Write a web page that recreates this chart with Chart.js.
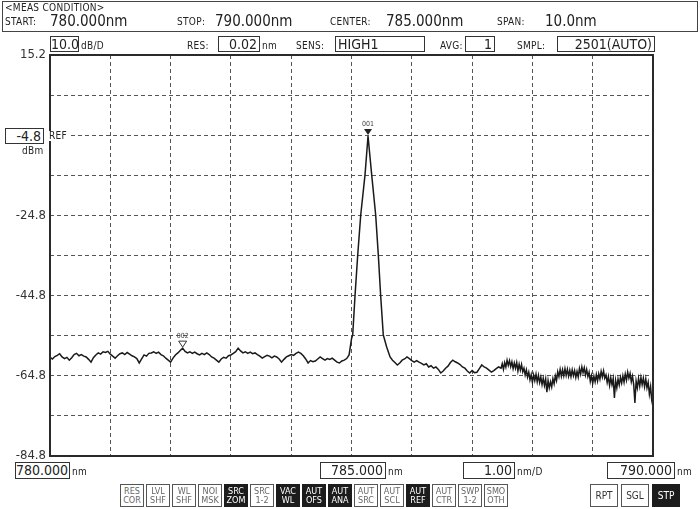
<!DOCTYPE html>
<html>
<head>
<meta charset="utf-8">
<script src="https://cdn.jsdelivr.net/npm/chart.js@4/dist/chart.umd.min.js"></script>
<style>
  html, body { margin: 0; padding: 0; background: #fff; }
  #wrap { position: relative; width: 700px; height: 509px; overflow: hidden;
          font-family: "DejaVu Sans Condensed", "Liberation Sans Narrow", sans-serif; color: #222; }
  #c { position: absolute; left: 0; top: 0; }
  .t { position: absolute; white-space: nowrap; line-height: 1; }
  .s { font-size: 10px; letter-spacing: 0.3px; }
  .v { font-size: 15px; }
  .box { position: absolute; border: 1px solid #333; background: #fff; text-align: right;
         font-size: 14px; line-height: 14px; padding-right: 2px; box-sizing: border-box; }
  .btn { position: absolute; top: 484px; width: 24px; height: 23px; border: 1px solid #555;
         box-sizing: border-box; font-size: 9px; line-height: 9px; text-align: center; padding-top: 2px;
         color: #666; background: #fff; }
  .btn.big { font-size: 10px; padding-top: 6px; color: #333; }
  .btn.on { background: #1c1c1c; color: #fff; border-color: #1c1c1c; }
</style>
</head>
<body>
<div id="wrap">
  <canvas id="c" width="700" height="509"></canvas>

  <!-- measurement condition header -->
  <div style="position:absolute;left:2px;top:1px;width:694px;height:29px;border:1px solid #444;"></div>
  <span class="t s" style="left:5px;top:3px;">&lt;MEAS CONDITION&gt;</span>
  <span class="t s" style="left:5px;top:17px;">START:</span>
  <span class="t v" style="left:50px;top:14px;">780.000nm</span>
  <span class="t s" style="left:177px;top:17px;">STOP:</span>
  <span class="t v" style="left:215px;top:14px;">790.000nm</span>
  <span class="t s" style="left:330px;top:17px;">CENTER:</span>
  <span class="t v" style="left:386px;top:14px;">785.000nm</span>
  <span class="t s" style="left:497px;top:17px;">SPAN:</span>
  <span class="t v" style="left:545px;top:14px;">10.0nm</span>

  <!-- settings row -->
  <div class="box" style="left:50px;top:36px;width:29px;height:16px;">10.0</div>
  <span class="t s" style="left:81px;top:41px;">dB/D</span>
  <span class="t s" style="left:187px;top:41px;">RES:</span>
  <div class="box" style="left:218px;top:36px;width:42px;height:16px;">0.02</div>
  <span class="t s" style="left:262px;top:41px;">nm</span>
  <span class="t s" style="left:296px;top:41px;">SENS:</span>
  <div class="box" style="left:335px;top:36px;width:90px;height:16px;text-align:left;padding-left:2px;">HIGH1</div>
  <span class="t s" style="left:440px;top:41px;">AVG:</span>
  <div class="box" style="left:465px;top:36px;width:30px;height:16px;">1</div>
  <span class="t s" style="left:517px;top:41px;">SMPL:</span>
  <div class="box" style="left:557px;top:36px;width:98px;height:16px;">2501(AUTO)</div>

  <!-- reference level -->
  <div class="box" style="left:5px;top:128px;width:39px;height:16px;">-4.8</div>
  <span class="t s" style="left:49px;top:131px;background:#fff;padding-right:2px;">REF</span>
  <span class="t s" style="left:22px;top:146px;">dBm</span>

  <!-- wavelength boxes -->
  <div class="box" style="left:15px;top:462px;width:55px;height:17px;">780.000</div>
  <span class="t s" style="left:72px;top:467px;">nm</span>
  <div class="box" style="left:320px;top:462px;width:66px;height:17px;">785.000</div>
  <span class="t s" style="left:388px;top:467px;">nm</span>
  <div class="box" style="left:463px;top:462px;width:52px;height:17px;">1.00</div>
  <span class="t s" style="left:517px;top:467px;">nm/D</span>
  <div class="box" style="left:607px;top:462px;width:68px;height:17px;">790.000</div>
  <span class="t s" style="left:677px;top:467px;">nm</span>

  <div id="buttons"></div>
</div>

<script>
// trace: wavelength (nm) and level (dBm)
const wavelengths = [
    // noise floor below the line
    780.00, 780.04, 780.08, 780.12, 780.16, 780.20, 780.24, 780.28, 780.32, 780.36,
    780.40, 780.44, 780.48, 780.52, 780.56, 780.60, 780.64, 780.68, 780.72, 780.76,
    780.80, 780.84, 780.88, 780.92, 780.96, 781.00, 781.04, 781.08, 781.12, 781.16,
    781.20, 781.24, 781.28, 781.32, 781.36, 781.40, 781.44, 781.48, 781.52, 781.56,
    781.60, 781.64, 781.68, 781.72, 781.76, 781.80, 781.84, 781.88, 781.92, 781.96,
    782.00, 782.04, 782.08, 782.12, 782.16, 782.20, 782.24, 782.28, 782.32, 782.36,
    782.40, 782.44, 782.48, 782.52, 782.56, 782.60, 782.64, 782.68, 782.72, 782.76,
    782.80, 782.84, 782.88, 782.92, 782.96, 783.00, 783.04, 783.08, 783.12, 783.16,
    783.20, 783.24, 783.28, 783.32, 783.36, 783.40, 783.44, 783.48, 783.52, 783.56,
    783.60, 783.64, 783.68, 783.72, 783.76, 783.80, 783.84, 783.88, 783.92, 783.96,
    784.00, 784.04, 784.08, 784.12, 784.16, 784.20, 784.24, 784.28, 784.32, 784.36,
    784.40, 784.44, 784.48, 784.52, 784.56, 784.60, 784.64, 784.68, 784.72, 784.76,
    784.80, 784.84, 784.88, 784.92, 784.96,
    // the line
    784.98, 785.00, 785.02, 785.058, 785.103, 785.153, 785.224, 785.274, 785.335, 785.401,
    785.445, 785.484, 785.527, 785.583, 785.64,
    // noise floor above the line
    785.68, 785.72, 785.76, 785.80, 785.84, 785.88, 785.92, 785.96, 786.00, 786.04,
    786.08, 786.12, 786.16, 786.20, 786.24, 786.28, 786.32, 786.36, 786.40, 786.44,
    786.48, 786.52, 786.56, 786.60, 786.64, 786.68, 786.72, 786.76, 786.80, 786.84,
    786.88, 786.92, 786.96, 787.00, 787.04, 787.08, 787.12, 787.16, 787.20, 787.24,
    787.28, 787.32, 787.36, 787.40, 787.44, 787.48,
    787.50, 787.52, 787.54, 787.56, 787.58, 787.60, 787.62, 787.64, 787.66, 787.68,
    787.70, 787.72, 787.74, 787.76, 787.78, 787.80, 787.82, 787.84, 787.86, 787.88,
    787.90, 787.92, 787.94, 787.96, 787.98, 788.00, 788.02, 788.04, 788.06, 788.08,
    788.10, 788.12, 788.14, 788.16, 788.18, 788.20, 788.22, 788.24, 788.26, 788.28,
    788.30, 788.32, 788.34, 788.36, 788.38, 788.40, 788.42, 788.44, 788.46, 788.48,
    788.50, 788.52, 788.54, 788.56, 788.58, 788.60, 788.62, 788.64, 788.66, 788.68,
    788.70, 788.72, 788.74, 788.76, 788.78, 788.80, 788.82, 788.84, 788.86, 788.88,
    788.90, 788.92, 788.94, 788.96, 788.98, 789.00, 789.02, 789.04, 789.06, 789.08,
    789.10, 789.12, 789.14, 789.16, 789.18, 789.20, 789.22, 789.24, 789.26, 789.28,
    789.30, 789.32, 789.34, 789.36, 789.38, 789.40, 789.42, 789.44, 789.46, 789.48,
    789.50, 789.52, 789.54, 789.56, 789.58, 789.60, 789.62, 789.64, 789.66, 789.68,
    789.70, 789.72, 789.74, 789.76, 789.78, 789.80, 789.82, 789.84, 789.86, 789.88,
    789.90, 789.92, 789.94, 789.96, 789.98, 790.00
];
const levels = [
    -60.2, -60.6, -60.0, -59.7, -59.3, -60.1, -60.5, -60.2, -60.9, -60.3,
    -59.5, -59.2, -59.8, -59.5, -59.9, -60.1, -60.7, -61.4, -60.3, -59.6,
    -59.1, -59.4, -58.8, -59.0, -58.7, -59.4, -59.9, -60.4, -59.8, -59.3,
    -59.1, -59.5, -59.0, -59.4, -59.8, -60.1, -60.5, -61.6, -60.6, -59.6,
    -59.9, -59.2, -59.1, -58.8, -59.2, -58.9, -59.5, -59.8, -60.4, -60.9,
    -61.4, -60.4, -59.6, -59.1, -58.5, -57.9, -58.7, -59.1, -58.8, -59.2,
    -58.9, -59.3, -59.6, -59.2, -59.5, -59.1, -59.5, -60.1, -60.4, -60.9,
    -61.4, -60.6, -60.2, -60.4, -59.8, -59.6, -59.2, -58.8, -57.9, -58.6,
    -59.1, -58.8, -59.2, -58.9, -59.3, -59.1, -59.5, -59.9, -60.4, -60.0,
    -59.7, -59.9, -60.3, -59.9, -60.1, -60.6, -61.4, -60.7, -60.1, -59.8,
    -59.5, -59.7, -59.2, -58.9, -59.2, -59.8, -60.6, -61.6, -61.0, -61.3,
    -61.1, -60.6, -60.1, -60.5, -60.9, -60.5, -60.7, -60.4, -60.9, -61.4,
    -61.6, -61.1, -60.9, -60.5, -59.6,

    -57.6, -55.6, -54.6, -44.9, -34.7, -24.7, -14.7, -5.0, -14.7, -24.7,
    -34.7, -44.9, -54.6, -57.6, -60.1,

    -60.9, -61.5, -62.1, -61.6, -60.9, -60.6, -60.1, -60.5, -61.0, -61.4,
    -61.0, -61.4, -61.7, -62.1, -61.8, -62.6, -62.3, -62.9, -62.6, -63.2,
    -64.1, -63.6, -62.9, -62.4, -61.5, -60.9, -61.3, -61.6, -62.0, -62.6,
    -62.9, -63.6, -64.1, -63.5, -64.0, -63.9, -63.0, -62.1, -62.6, -62.9,
    -63.4, -63.9, -63.5, -63.0, -62.6, -62.9,
    -61.8, -63.2, -61.5, -62.6, -60.9, -62.2, -61.0, -62.5, -61.3, -63.0,
    -61.6, -62.9, -61.5, -63.6, -61.9, -63.4, -62.0, -63.8, -62.9, -64.6,
    -63.3, -65.1, -63.9, -65.8, -64.5, -66.4, -64.6, -66.0, -64.4, -66.3,
    -64.7, -66.5, -65.1, -67.0, -65.4, -67.2, -65.6, -68.9, -66.0, -67.8,
    -66.3, -67.6, -65.5, -66.8, -64.8, -66.0, -63.8, -65.0, -63.2, -64.9,
    -63.3, -64.8, -63.0, -64.7, -63.2, -64.9, -63.4, -65.0, -63.3, -64.8,
    -63.5, -65.2, -63.7, -65.1, -63.0, -64.4, -62.6, -64.0, -62.8, -64.6,
    -63.2, -65.0, -63.9, -66.2, -64.8, -66.7, -64.9, -66.3, -64.5, -66.1,
    -64.3, -65.6, -63.7, -65.1, -63.6, -65.4, -64.6, -66.5, -65.0, -67.2,
    -65.3, -67.0, -65.5, -70.3, -66.0, -67.8, -65.6, -67.1, -65.2, -66.6,
    -64.8, -66.4, -64.4, -65.9, -63.9, -65.4, -64.2, -66.3, -64.9, -67.0,
    -71.6, -66.1, -67.8, -65.5, -67.4, -65.2, -67.0, -65.4, -67.5, -65.6,
    -67.8, -66.4, -69.4, -67.5, -71.0, -72.5
];

// markers
const markerNames = ['001', '002'];
const markerWl = [785.274, 782.20];
const markerLvl = [-5.0, -57.9];

// axes
const xGrid = [780, 781, 782, 783, 784, 785, 786, 787, 788, 789, 790];
const yGrid = [15.2, 5.2, -4.8, -14.8, -24.8, -34.8, -44.8, -54.8, -64.8, -74.8, -84.8];
const yLabels = ['15.2', '', '', '', '-24.8', '', '-44.8', '', '-64.8', '', '-84.8'];

// buttons along the bottom
const btnTop = ['RES', 'LVL', 'WL', 'NOI', 'SRC', 'SRC', 'VAC', 'AUT', 'AUT', 'AUT', 'AUT', 'AUT', 'AUT', 'SWP', 'SMO'];
const btnBot = ['COR', 'SHF', 'SHF', 'MSK', 'ZOM', '1-2', 'WL', 'OFS', 'ANA', 'SRC', 'SCL', 'REF', 'CTR', '1-2', 'OTH'];
const btnOn = [0, 0, 0, 0, 1, 0, 1, 1, 1, 0, 0, 1, 0, 0, 0];

const bdiv = document.getElementById('buttons');
btnTop.forEach((t, i) => {
    const b = document.createElement('div');
    b.className = 'btn' + (btnOn[i] ? ' on' : '');
    b.style.left = (120 + i * 26) + 'px';
    b.innerHTML = t + '<br>' + btnBot[i];
    bdiv.appendChild(b);
});
['RPT', 'SGL', 'STP'].forEach((t, i) => {
    const b = document.createElement('div');
    b.className = 'btn big' + (i === 2 ? ' on' : '');
    b.style.left = (590 + i * 31) + 'px';
    b.style.width = '28px';
    b.textContent = t;
    bdiv.appendChild(b);
});

// frame + markers
const framePlugin = {
    id: 'frame',
    afterDraw(chart) {
        const {ctx, chartArea: a, scales: {x, y}} = chart;
        ctx.save();
        ctx.strokeStyle = '#2a2a2a';
        ctx.lineWidth = 2;
        ctx.strokeRect(a.left, a.top, a.right - a.left, a.bottom - a.top);

        markerNames.forEach((name, i) => {
            const px = x.getPixelForValue(markerWl[i]);
            const py = y.getPixelForValue(markerLvl[i]) - 1;
            ctx.beginPath();
            ctx.moveTo(px, py);
            ctx.lineTo(px - 4, py - 6);
            ctx.lineTo(px + 4, py - 6);
            ctx.closePath();
            ctx.lineWidth = 1;
            ctx.strokeStyle = '#333';
            if (i === 0) { ctx.fillStyle = '#222'; ctx.fill(); }
            else { ctx.fillStyle = '#fff'; ctx.fill(); ctx.stroke(); }
            ctx.font = '7px "DejaVu Sans Condensed", sans-serif';
            ctx.fillStyle = '#444';
            ctx.textAlign = 'center';
            ctx.textBaseline = 'bottom';
            ctx.fillText(name, px, py - 7);
        });
        ctx.restore();
    }
};

new Chart(document.getElementById('c'), {
    type: 'line',
    data: {
        datasets: [{
            data: wavelengths.map((w, i) => ({x: w, y: levels[i]})),
            borderColor: '#1a1a1a', borderWidth: 1.5, pointRadius: 0, tension: 0, fill: false
        }]
    },
    options: {
        responsive: false, animation: false, devicePixelRatio: 1,
        layout: {padding: {left: 0, right: 47, top: 55, bottom: 0}},
        plugins: {legend: {display: false}, tooltip: {enabled: false}},
        scales: {
            x: {
                type: 'linear', min: 780, max: 790,
                afterBuildTicks: s => { s.ticks = xGrid.map(v => ({value: v})); },
                afterFit: s => { s.height = 53; },
                ticks: {display: false},
                grid: {color: '#555', lineWidth: 1, drawTicks: false},
                border: {display: false, dash: [4, 3]}
            },
            y: {
                min: -84.8, max: 15.2,
                afterBuildTicks: s => { s.ticks = yGrid.map(v => ({value: v})); },
                afterFit: s => { s.width = 50; },
                ticks: {
                    color: '#333', padding: 4,
                    font: {family: '"DejaVu Sans Condensed", sans-serif', size: 13},
                    callback: (v, i) => yLabels[i]
                },
                grid: {color: '#555', lineWidth: 1, drawTicks: false},
                border: {display: false, dash: [4, 3]}
            }
        }
    },
    plugins: [framePlugin]
});
</script>
</body>
</html>
